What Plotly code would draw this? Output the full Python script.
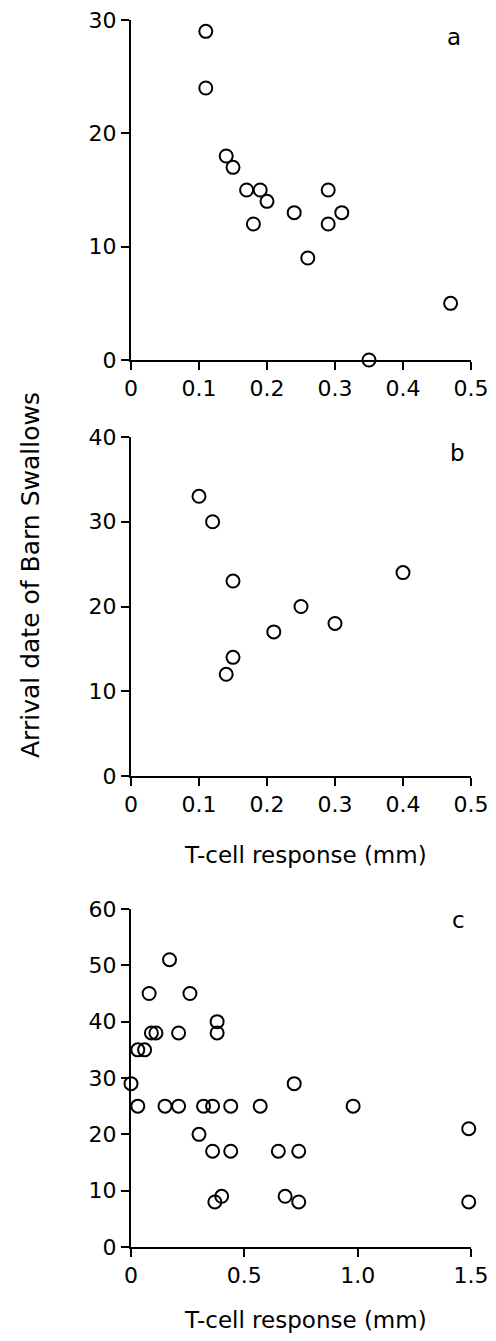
import plotly.graph_objects as go

# Panel a
a_x = [0.11, 0.11, 0.14, 0.15, 0.17, 0.19, 0.20, 0.18, 0.24, 0.29, 0.31, 0.29, 0.26, 0.35, 0.47]
a_y = [29, 24, 18, 17, 15, 15, 14, 12, 13, 15, 13, 12, 9, 0, 5]

# Panel b
b_x = [0.10, 0.12, 0.15, 0.40, 0.25, 0.30, 0.21, 0.15, 0.14]
b_y = [33, 30, 23, 24, 20, 18, 17, 14, 12]

# Panel c
c_x = [0.17, 0.08, 0.26, 0.38, 0.38, 0.21, 0.09, 0.11, 0.03, 0.06, 0.00, 0.72,
       0.03, 0.15, 0.21, 0.32, 0.36, 0.44, 0.57, 0.98,
       0.30, 1.49, 0.36, 0.44, 0.65, 0.74,
       0.37, 0.40, 0.68, 0.74, 1.49]
c_y = [51, 45, 45, 40, 38, 38, 38, 38, 35, 35, 29, 29,
       25, 25, 25, 25, 25, 25, 25, 25,
       20, 21, 17, 17, 17, 17,
       8, 9, 9, 8, 8]

ab_xticks = [0, 0.1, 0.2, 0.3, 0.4, 0.5]
ab_xlabels = ["0", "0.1", "0.2", "0.3", "0.4", "0.5"]
a_yticks = [0, 10, 20, 30]
b_yticks = [0, 10, 20, 30, 40]
c_yticks = [0, 10, 20, 30, 40, 50, 60]
c_xticks = [0, 0.5, 1.0, 1.5]
c_xlabels = ["0", "0.5", "1.0", "1.5"]

panel_labels = ["a", "b", "c"]
x_title = "T-cell response (mm)"
y_title = "Arrival date of Barn Swallows"

# page body has an 8px margin, so the figure is drawn offset by 8px
OFF = 8
W, H = 496 - 2 * OFF, 1341 - 2 * OFF
FONT = "DejaVu Sans"

def px_x(x):
    return (x - OFF) / W

def px_y(y):
    return 1 - (y - OFF) / H

fig = go.Figure()
marker = dict(symbol="circle-open", size=13, color="black", line=dict(width=2, color="black"))
fig.add_trace(go.Scatter(x=a_x, y=a_y, mode="markers", marker=marker, xaxis="x", yaxis="y", cliponaxis=False, showlegend=False))
fig.add_trace(go.Scatter(x=b_x, y=b_y, mode="markers", marker=marker, xaxis="x2", yaxis="y2", cliponaxis=False, showlegend=False))
fig.add_trace(go.Scatter(x=c_x, y=c_y, mode="markers", marker=marker, xaxis="x3", yaxis="y3", cliponaxis=False, showlegend=False))

xdom = [px_x(131), px_x(471)]
def ydom(top_px, bot_px):
    return [px_y(bot_px), px_y(top_px)]

axcommon = dict(showline=True, linecolor="black", linewidth=2, ticks="outside", ticklen=8,
                tickwidth=2, tickcolor="black", showgrid=False, zeroline=False, automargin=False,
                ticklabeloverflow="allow",
                tickfont=dict(family=FONT, size=22, color="black"))

fig.update_layout(
    width=W, height=H, margin=dict(l=0, r=0, t=0, b=0),
    paper_bgcolor="white", plot_bgcolor="white",
    xaxis=dict(domain=xdom, range=[0, 0.5], anchor="y", tickvals=ab_xticks, ticktext=ab_xlabels, **axcommon),
    yaxis=dict(domain=ydom(20, 360), range=[0, 30], anchor="x", tickvals=a_yticks, **axcommon),
    xaxis2=dict(domain=xdom, range=[0, 0.5], anchor="y2", tickvals=ab_xticks, ticktext=ab_xlabels, **axcommon),
    yaxis2=dict(domain=ydom(437, 776), range=[0, 40], anchor="x2", tickvals=b_yticks, **axcommon),
    xaxis3=dict(domain=xdom, range=[0, 1.5], anchor="y3", tickvals=c_xticks, ticktext=c_xlabels, **axcommon),
    yaxis3=dict(domain=ydom(909, 1247), range=[0, 60], anchor="x3", tickvals=c_yticks, **axcommon),
)

ann_font = dict(family=FONT, size=23, color="black")
for lab, (px, py) in zip(panel_labels, [(454, 37), (457, 453), (458, 920)]):
    fig.add_annotation(text=lab, x=px_x(px), y=px_y(py), xref="paper", yref="paper",
                       showarrow=False, font=ann_font, xanchor="center", yanchor="middle")

for py in [855, 1320]:
    fig.add_annotation(text=x_title, x=px_x(305), y=px_y(py), xref="paper", yref="paper",
                       showarrow=False, font=ann_font, xanchor="center", yanchor="middle")

fig.add_annotation(text=y_title, x=px_x(30), y=px_y(575), xref="paper", yref="paper",
                   showarrow=False, textangle=-90, font=dict(family=FONT, size=25, color="black"),
                   xanchor="center", yanchor="middle")

fig.write_html("out.html")
